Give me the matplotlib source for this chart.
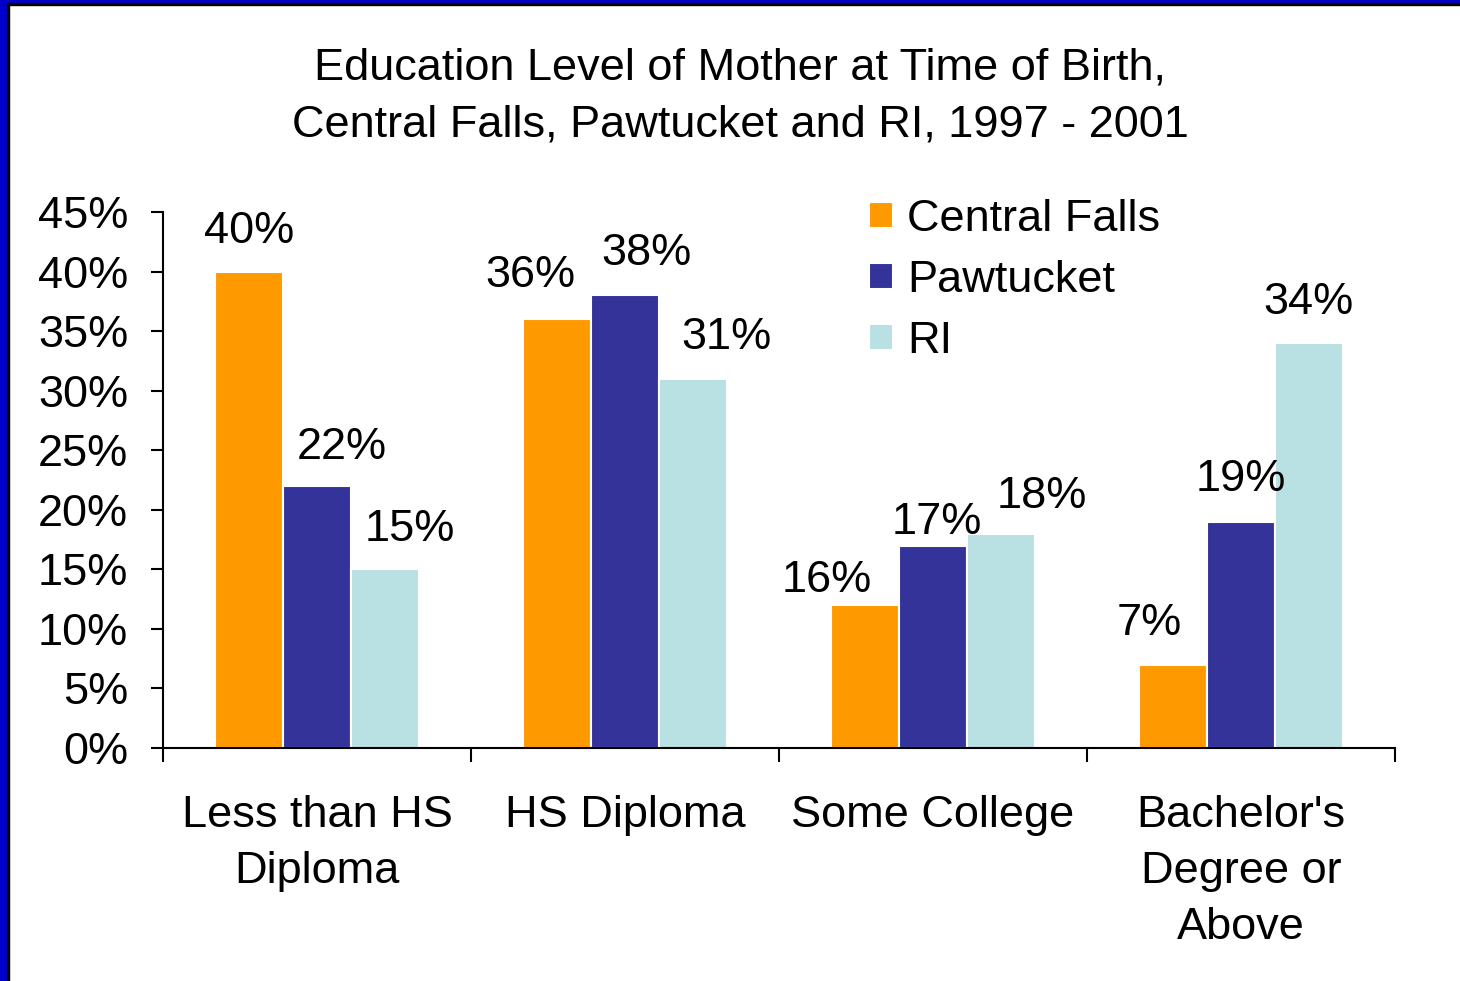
import matplotlib.pyplot as plt
from matplotlib.patches import Rectangle
import numpy as np

plt.rcParams['font.family'] = ['Liberation Sans', 'DejaVu Sans']

categories = ["Less than HS\nDiploma", "HS Diploma", "Some College",
              "Bachelor's\nDegree or\nAbove"]
series_names = ["Central Falls", "Pawtucket", "RI"]
central_falls = [40, 36, 12, 7]
pawtucket = [22, 38, 17, 19]
ri = [15, 31, 18, 34]
# data labels as printed on the chart
cf_labels = ["40%", "36%", "16%", "7%"]
paw_labels = ["22%", "38%", "17%", "19%"]
ri_labels = ["15%", "31%", "18%", "34%"]

colors = ["#FF9900", "#333399", "#B9E0E2"]
# hand-placed label nudges (pixels) like in the original
dx = [[0, 25, 25], [-27, 21, 34], [-38, 4, 41], [-24, 0, 0]]
dy = [[40, 38, 40], [44, 42, 41], [25, 23, 37], [41, 42, 41]]

FS = 32.5
W, H = 1460, 981
fig = plt.figure(figsize=(14.6, 9.81), dpi=100)
ax = fig.add_axes([163 / W, 1 - 748 / H, (1395 - 163) / W, (748 - 212) / H])

x = np.arange(len(categories))
bw = 0.22
all_vals = [central_falls, pawtucket, ri]
all_labs = [cf_labels, paw_labels, ri_labels]
for i, (vals, labs) in enumerate(zip(all_vals, all_labs)):
    pos = x + (i - 1) * bw
    ax.bar(pos, vals, width=bw, color=colors[i], edgecolor="white",
           linewidth=1.5, label=series_names[i], zorder=2)
    for j in range(len(vals)):
        ax.annotate(labs[j], (pos[j], vals[j]),
                    xytext=(dx[j][i], dy[j][i]), textcoords="offset pixels",
                    ha="center", va="center", fontsize=FS)

ax.set_ylim(0, 45)
ax.set_xlim(-0.5, 3.5)
ax.set_yticks(np.arange(0, 46, 5))
ax.set_yticklabels([f"{v}%" for v in range(0, 46, 5)], fontsize=FS)
ax.set_xticks(np.arange(-0.5, 4, 1))
ax.set_xticklabels([])
ax.set_xticks(x, categories, minor=True, fontsize=FS, linespacing=1.47)
ax.tick_params(axis="x", which="minor", length=0, pad=33.5)
ax.tick_params(axis="x", which="major", direction="out", length=10, width=1.5)
ax.tick_params(axis="y", direction="out", length=9, width=1.5, pad=16)
for s in ["top", "right"]:
    ax.spines[s].set_visible(False)
for s in ["left", "bottom"]:
    ax.spines[s].set_linewidth(1.5)

ax.legend(loc="upper left", bbox_to_anchor=(851 / W, 1 - 181 / H),
          bbox_transform=fig.transFigure, frameon=False, fontsize=FS,
          handlelength=0.52, handleheight=0.52, handletextpad=0.33,
          labelspacing=0.44, borderaxespad=0)

fig.text(740 / W, 1 - 96.5 / H,
         "Education Level of Mother at Time of Birth,\n"
         "Central Falls, Pawtucket and RI, 1997 - 2001",
         ha="center", va="center", fontsize=FS, linespacing=1.53)

# blue frame on left and top
fig.patches.append(Rectangle((0, 0), 7 / W, 1, transform=fig.transFigure,
                             color="#0000CC", zorder=5))
fig.patches.append(Rectangle((0, 1 - 3 / H), 1, 3 / H, transform=fig.transFigure,
                             color="#0000CC", zorder=5))
fig.patches.append(Rectangle((7 / W, 0), 2 / W, 1 - 3 / H, transform=fig.transFigure,
                             color="black", zorder=5))
fig.patches.append(Rectangle((7 / W, 1 - 5 / H), 1, 2 / H, transform=fig.transFigure,
                             color="black", zorder=5))

fig.savefig("out.png", dpi=100)
